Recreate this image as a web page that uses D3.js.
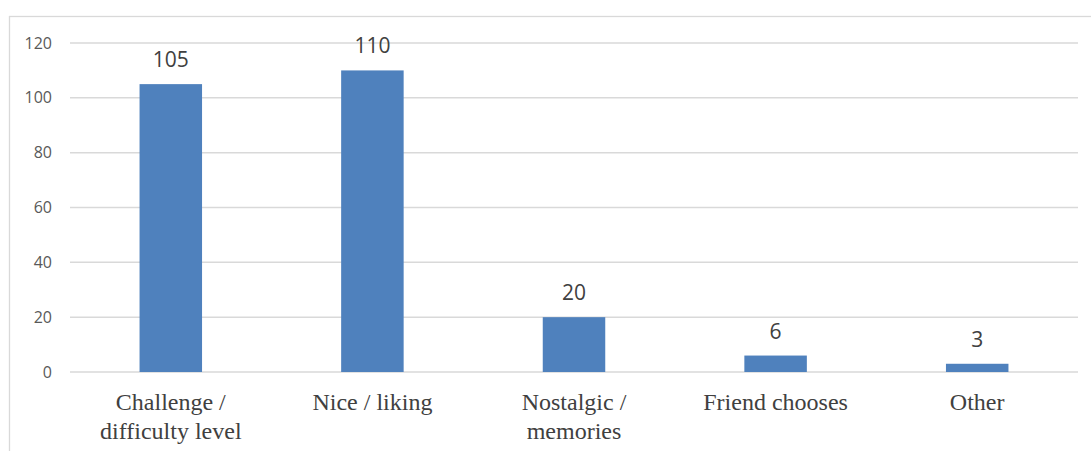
<!DOCTYPE html>
<html>
<head>
<meta charset="utf-8">
<script src="https://cdn.jsdelivr.net/npm/d3@7"></script>
<style>
  html, body { margin: 0; padding: 0; background: #fff; }
  svg { display: block; }
</style>
</head>
<body>
<svg id="chart" width="1091" height="451"></svg>
<script>
// Reasons for choosing a game
const categories = [["Challenge /", "difficulty level"], ["Nice / liking"], ["Nostalgic /", "memories"], ["Friend chooses"], ["Other"]];
const values = [105, 110, 20, 6, 3];
const yTicks = [0, 20, 40, 60, 80, 100, 120];

(function () {
  const svg = d3.select("#chart");
  const W = 1091, H = 451;
  const plotLeft = 70, plotRight = 1078, plotTop = 43, plotBottom = 372;
  const sans = "'Open Sans', sans-serif";

  // outer chart frame (extends past the visible area on the right and bottom)
  svg.append("rect")
    .attr("x", 9.5).attr("y", 16.5)
    .attr("width", W + 20).attr("height", H + 20)
    .attr("fill", "#fff")
    .attr("stroke", "#d9d9d9").attr("stroke-width", 1.3);

  const x = d3.scaleBand()
    .domain(d3.range(categories.length))
    .range([plotLeft, plotRight])
    .paddingInner(0.69).paddingOuter(0.345);

  const y = d3.scaleLinear().domain([0, 120]).range([plotBottom, plotTop]);

  // gridlines
  svg.append("g").selectAll("line")
    .data(yTicks)
    .join("line")
    .attr("x1", plotLeft).attr("x2", plotRight)
    .attr("y1", d => y(d)).attr("y2", d => y(d))
    .attr("stroke", "#d9d9d9").attr("stroke-width", 1.5);

  // y axis labels
  const yAxis = d3.axisLeft(y).tickValues(yTicks).tickSize(0).tickPadding(0);
  const gy = svg.append("g").attr("transform", "translate(52,0)").call(yAxis);
  gy.select(".domain").remove();
  gy.attr("font-family", null).attr("font-size", null);
  gy.selectAll("text")
    .style("font-family", sans)
    .style("font-size", "16px")
    .style("fill", "#595959");

  // bars
  svg.append("g").selectAll("rect")
    .data(values)
    .join("rect")
    .attr("x", (d, i) => x(i))
    .attr("y", d => y(d))
    .attr("width", x.bandwidth())
    .attr("height", d => y(0) - y(d))
    .attr("fill", "#4f81bd");

  // value labels
  svg.append("g").selectAll("text")
    .data(values)
    .join("text")
    .attr("x", (d, i) => x(i) + x.bandwidth() / 2)
    .attr("y", d => y(d) - 17)
    .attr("text-anchor", "middle")
    .style("font-family", sans)
    .style("font-size", "21px")
    .style("fill", "#404040")
    .text(d => d);

  // category labels
  const cat = svg.append("g").selectAll("text")
    .data(categories)
    .join("text")
    .attr("x", (d, i) => x(i) + x.bandwidth() / 2)
    .attr("y", 410)
    .attr("text-anchor", "middle")
    .style("font-family", "'Liberation Serif', 'Times New Roman', serif")
    .style("font-size", "24px")
    .style("fill", "#404040");
  cat.selectAll("tspan")
    .data(d => d)
    .join("tspan")
    .attr("x", function () { return d3.select(this.parentNode).attr("x"); })
    .attr("dy", (d, i) => i === 0 ? 0 : 29)
    .text(d => d);
})();
</script>
</body>
</html>
